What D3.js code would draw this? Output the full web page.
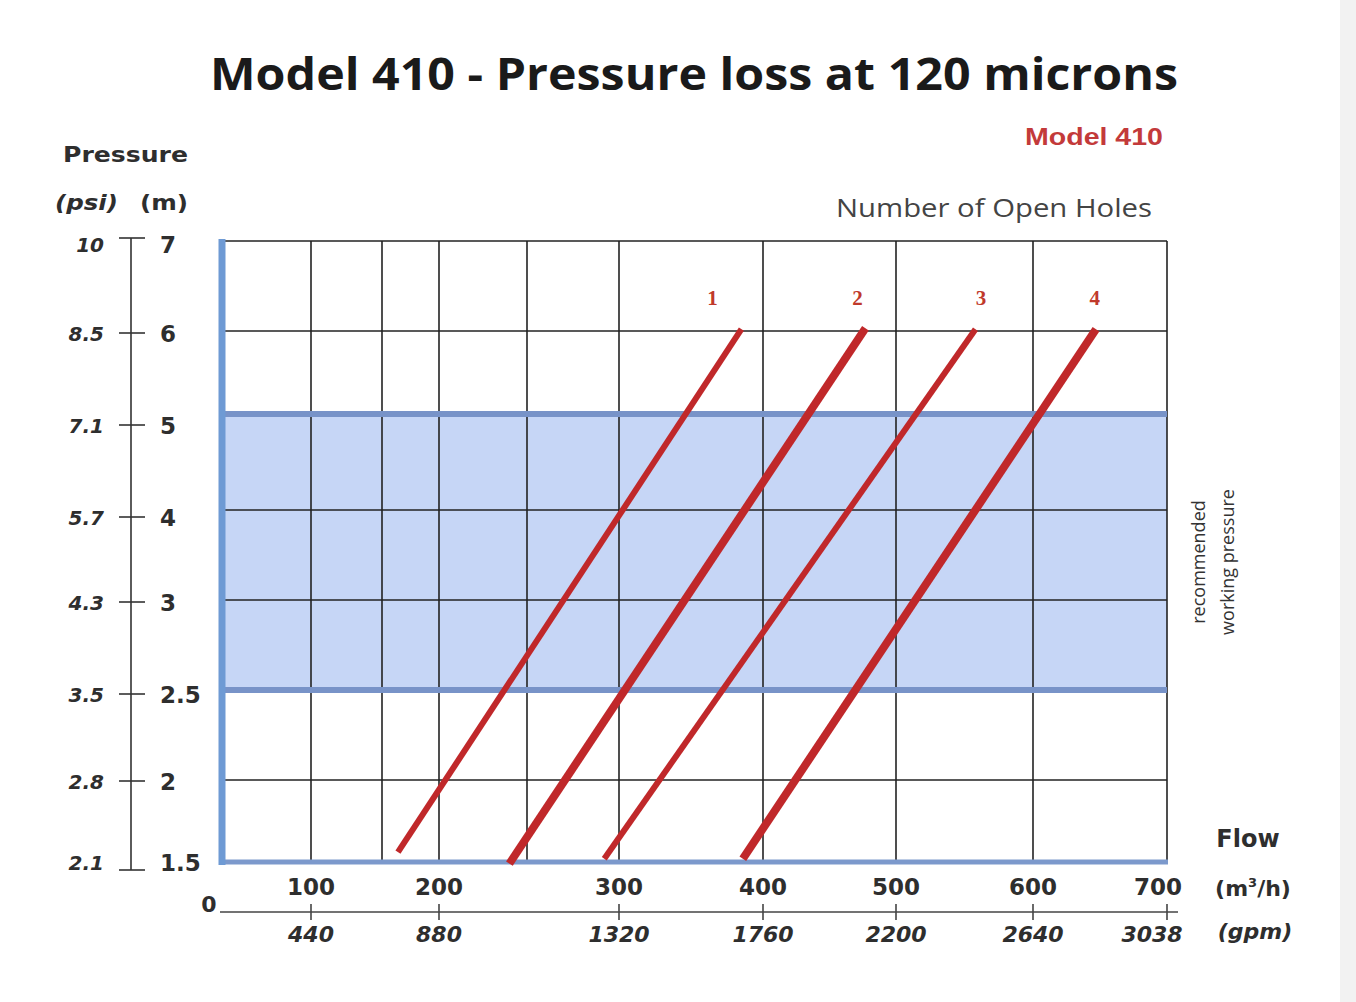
<!DOCTYPE html>
<html><head><meta charset="utf-8">
<script src="https://cdn.jsdelivr.net/npm/d3@7"></script>
<style>html,body{margin:0;padding:0;background:#fff;}svg{display:block;}</style>
</head><body>
<script>
// ---------- DATA ----------
const flowTicks = [100, 200, 300, 400, 500, 600, 700];          // m3/h
const gpmLabels = ["440", "880", "1320", "1760", "2200", "2640", "3038"];
const flowGrid = [100, 150, 200, 250, 300, 400, 500, 600, 700]; // vertical grid lines
const pressureM = [7, 6, 5, 4, 3, 2.5, 2, 1.5];                 // m
const pressurePsi = ["10", "8.5", "7.1", "5.7", "4.3", "3.5", "2.8", "2.1"];
const gridM = [7, 6, 4, 3, 2];                                  // thin horizontal grid
const bandM = [2.5, 5];                                         // recommended working pressure
const holes = ["1", "2", "3", "4"];
const holeStartFlow = [164, 240, 292, 386];
const holeStartM = [1.56, 1.49, 1.52, 1.52];
const holeEndFlow = [385, 477, 558, 647];
const holeEndM = [6.02, 6.03, 6.02, 6.02];
const holeLabelFlow = [365, 471, 562, 646];
const holeLabelM = [6.37, 6.37, 6.37, 6.37];

// ---------- LAYOUT ----------
const W = 1356, H = 1002;
const svg = d3.select("body").append("svg").attr("width", W).attr("height", H);
svg.append("rect").attr("width", W).attr("height", H).attr("fill", "#fff");
svg.append("rect").attr("x", 1340).attr("y", 0).attr("width", 16).attr("height", H).attr("fill", "#f2f2f2");

const L = 222, R = 1167, T = 241, B = 862;
const x = d3.scaleLinear()
  .domain([0, 100, 150, 200, 250, 300, 400, 500, 600, 700])
  .range([L, 311, 382, 439, 527, 619, 763, 896, 1033, R]);
const y = d3.scaleLinear()
  .domain([1.5, 2, 2.5, 3, 4, 5, 6, 7])
  .range([B, 780, 690, 600, 510, 414, 331, T]);
const yAxisS = d3.scaleLinear()
  .domain([1.5, 2, 2.5, 3, 4, 5, 6, 7])
  .range([870, 781, 694, 602, 517, 425, 333, 238]);

const ink = "#222";
const red = "#c0282a";
const txt = "#2e2e2e";

// Title
svg.append("text").attr("x", 210).attr("y", 90)
  .attr("font-family", "Open Sans").attr("font-weight", 700).attr("font-size", 45)
  .attr("fill", "#1a1a1a").attr("textLength", 968).attr("lengthAdjust", "spacingAndGlyphs")
  .text("Model 410 - Pressure loss at 120 microns");

svg.append("text").attr("x", 1025).attr("y", 145)
  .attr("font-family", "Liberation Sans").attr("font-weight", 700).attr("font-size", 24)
  .attr("textLength", 138).attr("lengthAdjust", "spacingAndGlyphs")
  .attr("fill", "#c33a3a").text("Model 410");

svg.append("text").attr("x", 836).attr("y", 217)
  .attr("font-family", "Open Sans").attr("font-size", 25).attr("fill", "#444")
  .attr("textLength", 316).attr("lengthAdjust", "spacingAndGlyphs")
  .text("Number of Open Holes");

// band
svg.append("rect").attr("x", L).attr("y", y(bandM[1])).attr("width", R - L)
  .attr("height", y(bandM[0]) - y(bandM[1])).attr("fill", "#c6d6f6");

// grid
const g = svg.append("g");
g.selectAll("line.v").data(flowGrid).join("line")
  .attr("x1", d => x(d)).attr("x2", d => x(d)).attr("y1", T).attr("y2", B)
  .attr("stroke", ink).attr("stroke-width", 1.6);
g.selectAll("line.h").data(gridM).join("line")
  .attr("x1", L).attr("x2", R).attr("y1", d => y(d)).attr("y2", d => y(d))
  .attr("stroke", ink).attr("stroke-width", 1.6);
g.selectAll("line.band").data(bandM).join("line")
  .attr("x1", L).attr("x2", R).attr("y1", d => y(d)).attr("y2", d => y(d))
  .attr("stroke", "#7893c8").attr("stroke-width", 6);

// borders
svg.append("line").attr("x1", L).attr("x2", R + 1).attr("y1", B).attr("y2", B)
  .attr("stroke", "#7c99cc").attr("stroke-width", 5);
svg.append("line").attr("x1", L).attr("x2", L).attr("y1", T - 2).attr("y2", B + 3)
  .attr("stroke", "#6e9ad4").attr("stroke-width", 7);

// red lines
const lineGen = d3.line().x(d => x(d[0])).y(d => y(d[1]));
const widths = [6, 8, 6, 8];
holes.forEach((h, i) => {
  svg.append("path")
    .datum([[holeStartFlow[i], holeStartM[i]], [holeEndFlow[i], holeEndM[i]]])
    .attr("d", lineGen).attr("fill", "none").attr("stroke", red)
    .attr("stroke-width", widths[i]).attr("stroke-linecap", "butt");
  svg.append("text").attr("x", x(holeLabelFlow[i])).attr("y", y(holeLabelM[i]) + 7)
    .attr("text-anchor", "middle").attr("font-family", "Liberation Serif")
    .attr("font-weight", 700).attr("font-size", 21).attr("fill", "#c0392b").text(h);
});

// right rotated text
const rt = svg.append("text").attr("transform", "translate(1210,562) rotate(-90)")
  .attr("text-anchor", "middle").attr("font-family", "Open Sans").attr("font-size", 18)
  .attr("fill", "#333");
rt.append("tspan").attr("x", 0).attr("dy", -5).text("recommended");
rt.append("tspan").attr("x", 0).attr("dy", 29).text("working pressure");

// left axis
svg.append("text").attr("x", 63).attr("y", 162)
  .attr("font-family", "DejaVu Sans").attr("font-weight", 700).attr("font-size", 22)
  .attr("textLength", 125).attr("lengthAdjust", "spacingAndGlyphs")
  .attr("fill", txt).text("Pressure");
svg.append("text").attr("x", 55).attr("y", 210)
  .attr("font-family", "DejaVu Sans").attr("font-weight", 700).attr("font-style", "italic")
  .attr("font-size", 21).attr("textLength", 63).attr("lengthAdjust", "spacingAndGlyphs")
  .attr("fill", txt).text("(psi)");
svg.append("text").attr("x", 140).attr("y", 210)
  .attr("font-family", "DejaVu Sans").attr("font-weight", 700)
  .attr("font-size", 21).attr("textLength", 48).attr("lengthAdjust", "spacingAndGlyphs")
  .attr("fill", txt).text("(m)");

const ax = svg.append("g");
ax.append("line").attr("x1", 131).attr("x2", 131).attr("y1", yAxisS(7)).attr("y2", yAxisS(1.5))
  .attr("stroke", "#333").attr("stroke-width", 1.6);
ax.selectAll("line.t").data(pressureM).join("line")
  .attr("x1", 119).attr("x2", 145).attr("y1", d => yAxisS(d)).attr("y2", d => yAxisS(d))
  .attr("stroke", "#333").attr("stroke-width", 1.6);
const labelOff = d => d === 7 ? 8 : (d === 1.5 ? -6 : 2);
ax.selectAll("text.m").data(pressureM).join("text")
  .attr("x", 160).attr("y", d => yAxisS(d) + labelOff(d))
  .attr("dominant-baseline", "middle")
  .attr("font-family", "DejaVu Sans").attr("font-weight", 700).attr("font-size", 23)
  .attr("fill", txt).text(d => d);
ax.selectAll("text.p").data(pressureM).join("text")
  .attr("x", 104).attr("y", d => yAxisS(d) + labelOff(d))
  .attr("dominant-baseline", "middle").attr("text-anchor", "end")
  .attr("font-family", "DejaVu Sans").attr("font-weight", 700).attr("font-style", "italic")
  .attr("font-size", 20).attr("fill", txt).text((d, i) => pressurePsi[i]);

// bottom axes
const ba = svg.append("g");
const axisY = 912;
ba.append("line").attr("x1", 220).attr("x2", 1178).attr("y1", axisY).attr("y2", axisY)
  .attr("stroke", "#444").attr("stroke-width", 1.6);
ba.selectAll("line.t").data(flowTicks).join("line")
  .attr("x1", d => x(d)).attr("x2", d => x(d)).attr("y1", axisY - 8).attr("y2", axisY + 8)
  .attr("stroke", "#444").attr("stroke-width", 1.6);
ba.append("text").attr("x", 209).attr("y", 906).attr("text-anchor", "middle")
  .attr("dominant-baseline", "middle")
  .attr("font-family", "DejaVu Sans").attr("font-weight", 700).attr("font-size", 22)
  .attr("fill", txt).text("0");
ba.selectAll("text.f").data(flowTicks).join("text")
  .attr("x", d => d === 700 ? x(d) - 9 : x(d)).attr("y", 888)
  .attr("text-anchor", "middle").attr("dominant-baseline", "middle")
  .attr("font-family", "DejaVu Sans").attr("font-weight", 700).attr("font-size", 23)
  .attr("fill", txt).text(d => d);
ba.selectAll("text.g").data(flowTicks).join("text")
  .attr("x", d => d === 700 ? x(d) - 15 : x(d)).attr("y", 936)
  .attr("text-anchor", "middle").attr("dominant-baseline", "middle")
  .attr("font-family", "DejaVu Sans").attr("font-weight", 700).attr("font-style", "italic")
  .attr("font-size", 22).attr("fill", txt).text((d, i) => gpmLabels[i]);

svg.append("text").attr("x", 1248).attr("y", 847).attr("text-anchor", "middle")
  .attr("font-family", "DejaVu Sans").attr("font-weight", 700).attr("font-size", 24)
  .attr("fill", txt).text("Flow");
const mh = svg.append("text").attr("x", 1253).attr("y", 896).attr("text-anchor", "middle")
  .attr("font-family", "DejaVu Sans").attr("font-weight", 700).attr("font-size", 22)
  .attr("fill", txt);
mh.append("tspan").text("(m");
mh.append("tspan").attr("font-size", 13).attr("dy", -9).text("3");
mh.append("tspan").attr("dy", 9).text("/h)");
svg.append("text").attr("x", 1255).attr("y", 939).attr("text-anchor", "middle")
  .attr("font-family", "DejaVu Sans").attr("font-weight", 700).attr("font-style", "italic")
  .attr("font-size", 22).attr("fill", txt).text("(gpm)");
</script>
</body></html>
